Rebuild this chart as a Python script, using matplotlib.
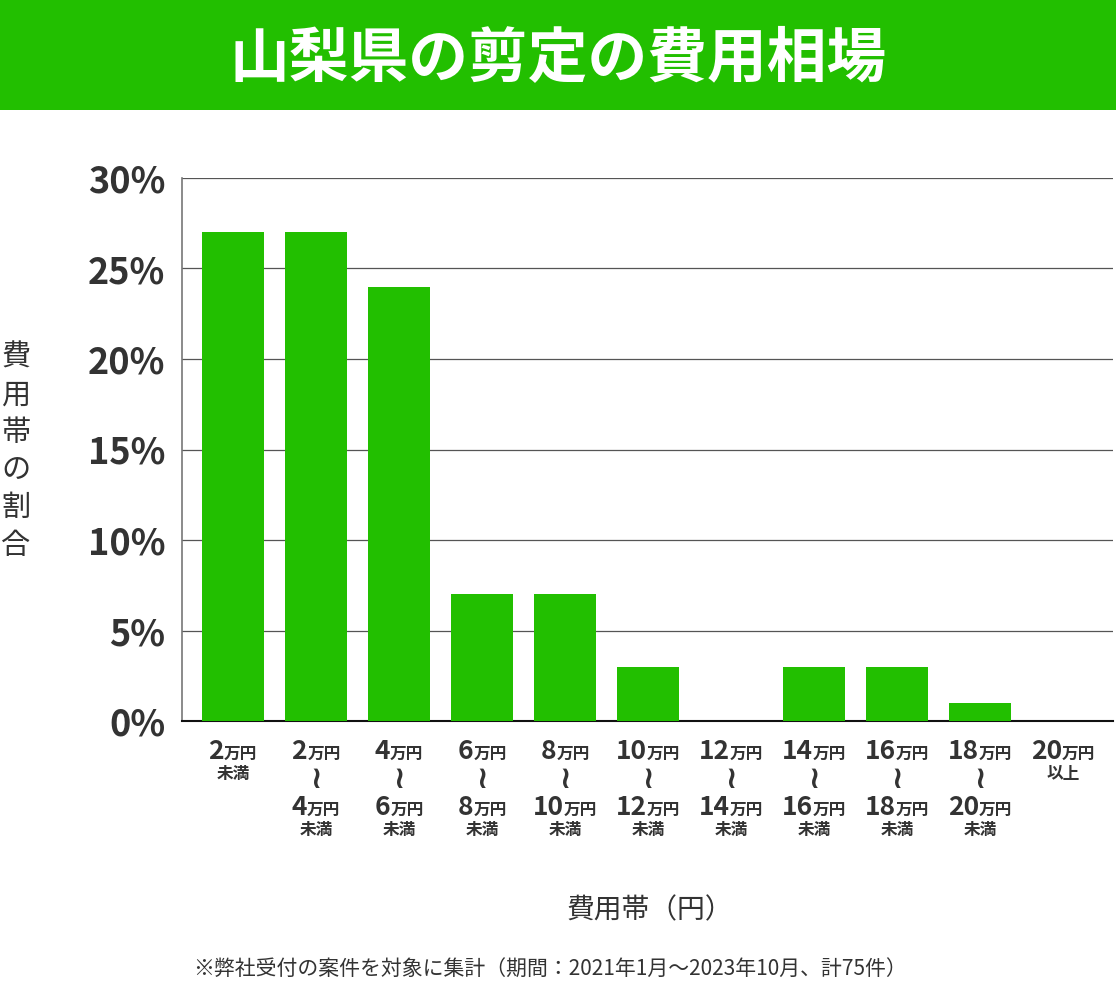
import matplotlib
matplotlib.use("Agg")
import matplotlib.pyplot as plt
from matplotlib.patches import Rectangle
from matplotlib.offsetbox import TextArea, HPacker, VPacker, AnnotationBbox

plt.rcParams['font.family'] = ['Noto Sans CJK JP', 'DejaVu Sans']

# data
title = '山梨県の剪定の費用相場'
lows = ['2', '2', '4', '6', '8', '10', '12', '14', '16', '18', '20']
highs = [None, '4', '6', '8', '10', '12', '14', '16', '18', '20', None]
share = [27, 27, 24, 7, 7, 3, 0, 3, 3, 1, 0]
yticks = [0, 5, 10, 15, 20, 25, 30]
ylabel = '費用帯の割合'
xlabel = '費用帯（円）'
note = '※弊社受付の案件を対象に集計（期間：2021年1月～2023年10月、計75件）'

green = '#22bf00'
dark = '#333333'

fig = plt.figure(figsize=(11.16, 9.89), dpi=100)

# title banner
fig.patches.append(Rectangle((0, 1 - 110 / 989), 1, 110 / 989, transform=fig.transFigure,
                             facecolor=green, edgecolor='none'))
fig.text(0.5, 1 - 60 / 989, title, color='white', fontsize=43, fontweight='bold',
         ha='center', va='center')

ax = fig.add_axes([182 / 1116, 1 - 721 / 989, (1113 - 182) / 1116, (721 - 178) / 989])
x = list(range(len(share)))
ax.bar(x, share, width=0.747, color=green, zorder=3)
ax.set_xlim(-0.614, 10.60)
ax.set_ylim(0, 30)

for v in yticks[1:]:
    ax.axhline(v, color='#555555', lw=0.9, zorder=1)
ax.set_yticks(yticks)
ax.set_yticklabels([f'{v}%' for v in yticks], fontsize=26, fontweight='bold', color=dark)
ax.tick_params(axis='y', length=0, pad=12)
ax.set_xticks([])
for s in ['top', 'right']:
    ax.spines[s].set_visible(False)
ax.spines['left'].set_color('#777777')
ax.spines['left'].set_linewidth(1.2)
ax.spines['bottom'].set_color('#111111')
ax.spines['bottom'].set_linewidth(1.5)


def money(n):
    return HPacker(children=[
        TextArea(n, textprops=dict(fontsize=19, fontweight='bold', color=dark)),
        TextArea('万円', textprops=dict(fontsize=12, fontweight='bold', color=dark))],
        align='baseline', pad=0, sep=0)


def small(s):
    return TextArea(s, textprops=dict(fontsize=12, fontweight='bold', color=dark))


for i in x:
    if highs[i] is None:
        kids = [money(lows[i]), small('未満' if i == 0 else '以上')]
    else:
        kids = [money(lows[i]),
                TextArea('≀', textprops=dict(fontsize=22, fontweight='bold', color=dark,
                                             family='DejaVu Sans')),
                money(highs[i]), small('未満')]
    box = VPacker(children=kids, align='center', pad=0, sep=0)
    ab = AnnotationBbox(box, (i, 0), xycoords=('data', 'axes fraction'),
                        xybox=(0, -12), boxcoords='offset points',
                        box_alignment=(0.5, 1), frameon=False)
    ax.add_artist(ab)

# vertical y label
for k, ch in enumerate(ylabel):
    fig.text(16 / 1116, 1 - (358 + k * 37.5) / 989, ch, fontsize=21, color=dark,
             ha='center', va='center')

fig.text(650 / 1116, 1 - 910 / 989, xlabel, fontsize=20, color=dark, ha='center', va='center')
fig.text(550 / 1116, 1 - 970 / 989, note, fontsize=15, color=dark, ha='center', va='center')

fig.savefig('out.png', dpi=100)
